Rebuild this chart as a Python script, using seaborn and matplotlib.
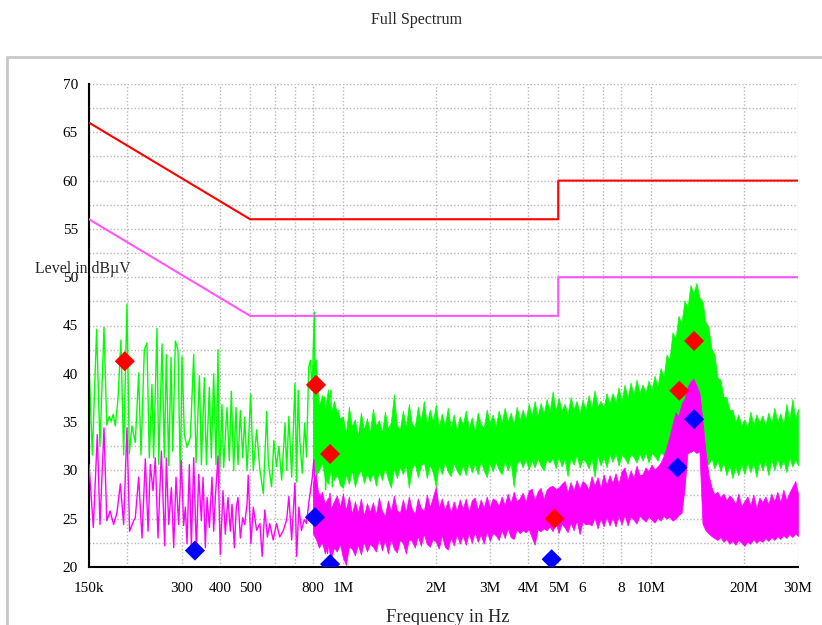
import numpy as np
import pandas as pd
import matplotlib
matplotlib.use("Agg")
import matplotlib.pyplot as plt
from matplotlib.lines import Line2D
from matplotlib.ticker import NullLocator
import seaborn as sns

# --------------------------------------------------
# Limit lines (CISPR style), MHz / dBuV
# --------------------------------------------------
limit_mhz = [0.15, 0.5, 5.0, 5.0, 30.0]
qp_limit = [66, 56, 56, 60, 60]
av_limit = [56, 46, 46, 50, 50]

# --------------------------------------------------
# Final measurement points
# --------------------------------------------------
qp_mhz = [0.196, 0.818, 0.909, 4.86, 12.36, 13.8]
qp_level = [41.3, 38.85, 31.7, 25.0, 38.25, 43.4]
av_mhz = [0.331, 0.812, 0.909, 4.76, 12.2, 13.8]
av_level = [21.7, 25.15, 20.3, 20.8, 30.3, 35.3]

# --------------------------------------------------
# Preview scan, low band (single trace points), kHz
# --------------------------------------------------
peak_khz = [150, 153.8, 158.8, 162.8, 167.8, 171.3, 174.4, 177.1, 179.8, 182.5,
            186.2, 190.4, 194.3, 199.2, 202.7, 206.8, 212.0, 217.4, 221.2, 226.8,
            231.3, 235.4, 240.1, 243.1, 249.3, 252.5, 258.9, 263.4, 267.4, 272.1,
            276.9, 280.4, 286.0, 291.8, 296.9, 300.6, 305.9, 312.0, 319.9, 328.0,
            333.8, 342.2, 347.4, 355.2, 360.6, 368.7, 374.2, 380.8, 387.5, 393.3,
            397.2, 405.2, 410.3, 420.7, 428.1, 434.5, 442.2, 450.0, 456.8, 464.8,
            473.0, 480.1, 488.6, 494.7, 502.0, 512, 525, 538, 552, 566,
            573, 587, 597, 609, 620, 633, 649, 657, 668, 682,
            699, 708, 716, 725, 738, 752, 762, 775, 785, 795,
            808, 814, 821, 832, 842, 853, 870, 879, 897, 915,
            924, 938, 954, 971, 986, 1000]
peak_level = [40.9, 31.6, 44.6, 32.5, 44.8, 34.7, 35.6, 35.1, 35.8, 34.6,
              37.3, 43.5, 31.6, 47.2, 31.7, 34.6, 32.9, 40.1, 31.6, 42.5,
              43.2, 31.3, 38.9, 31.3, 44.7, 30.6, 43.1, 31.3, 42.0, 30.5,
              41.7, 32.0, 43.4, 42.4, 28.7, 41.8, 33.7, 32.4, 33.4, 42.0,
              30.8, 39.8, 30.6, 39.6, 30.6, 38.6, 31.3, 40.0, 30.6, 42.5,
              28.7, 36.8, 30.3, 36.5, 31.0, 38.2, 30.0, 36.5, 30.6, 36.2,
              31.3, 35.5, 30.0, 33.4, 37.9, 30.0, 34.2, 30.0, 27.6, 36.1,
              30.7, 28.3, 33.1, 30.4, 32.5, 29.0, 34.9, 30.0, 35.6, 29.3,
              39.0, 28.8, 38.3, 33.1, 29.7, 34.9, 31.4, 40.7, 41.4, 38.3,
              46.4, 30.0, 39.7, 34.9, 31.4, 36.2, 37.6, 28.0, 36.9, 38.3,
              28.3, 35.6, 29.3, 36.2, 29.3, 34.2]

avg_khz = [150, 154.9, 159.6, 162.8, 167.8, 171.3, 175.6, 180.3, 184.8, 189.6,
           194.3, 199.2, 203.2, 209.4, 212.0, 217.4, 222.9, 228.5, 233.2, 237.2,
           242.0, 246.2, 251.2, 257.6, 264.1, 267.4, 272.1, 277.6, 282.5, 287.4,
           293.2, 299.0, 304.3, 308.1, 312.0, 317.5, 322.3, 328.0, 334.6, 340.5,
           347.4, 351.7, 357.9, 362.4, 368.7, 376.1, 380.8, 385.6, 393.3, 400.2,
           408.3, 415.4, 423.8, 431.3, 436.7, 444.4, 451.1, 456.8, 464.8, 473.0,
           480.1, 488.6, 493, 503, 512, 525, 538, 547, 558, 569,
           579, 594, 609, 624, 641, 657, 668, 682, 699, 708,
           720, 734, 749, 762, 775, 786, 796, 805, 815, 827,
           842, 857, 874, 892, 908, 924, 942, 961, 978, 1000]
avg_level = [30.6, 24.1, 33.7, 24.4, 34.4, 24.8, 25.8, 24.4, 25.6, 28.6,
             24.4, 34.4, 23.7, 24.8, 25.1, 29.3, 23.0, 31.2, 23.7, 30.6,
             27.9, 31.3, 23.0, 32.0, 22.2, 31.3, 24.4, 28.2, 22.0, 29.3,
             24.4, 31.0, 24.3, 26.2, 22.4, 30.6, 22.0, 31.3, 21.7, 29.6,
             24.8, 29.3, 22.0, 27.2, 24.1, 29.3, 23.7, 27.2, 31.5, 21.3,
             27.9, 23.4, 27.2, 23.7, 26.5, 22.0, 26.2, 27.2, 23.0, 25.1,
             24.4, 26.5, 29.5, 22.4, 26.2, 23.8, 24.5, 21.1, 25.9, 23.1,
             24.5, 22.8, 24.5, 23.1, 23.8, 24.9, 27.3, 22.8, 28.7, 21.1,
             26.2, 23.8, 24.9, 24.5, 26.6, 28.0, 29.3, 31.1, 27.3, 23.8,
             27.6, 22.4, 26.2, 21.4, 27.6, 23.1, 26.6, 21.8, 26.2, 23.8]

# --------------------------------------------------
# Preview scan, high band (dense: min / max per column), MHz
# --------------------------------------------------
band_mhz = [0.799, 0.817, 0.836, 0.855, 0.874, 0.894, 0.914, 0.935, 0.956, 0.978,
            1.000, 1.023, 1.046, 1.070, 1.094, 1.119, 1.144, 1.170, 1.197, 1.224,
            1.252, 1.280, 1.309, 1.339, 1.369, 1.400, 1.432, 1.464, 1.497, 1.531,
            1.566, 1.601, 1.637, 1.674, 1.712, 1.751, 1.791, 1.831, 1.873, 1.915,
            1.958, 2.003, 2.048, 2.094, 2.142, 2.190, 2.240, 2.290, 2.342, 2.395,
            2.450, 2.505, 2.562, 2.620, 2.679, 2.740, 2.802, 2.865, 2.930, 2.996,
            3.064, 3.133, 3.204, 3.277, 3.351, 3.427, 3.504, 3.584, 3.665, 3.748,
            3.833, 3.919, 4.008, 4.099, 4.191, 4.286, 4.383, 4.483, 4.584, 4.688,
            4.794, 4.903, 5.014, 5.127, 5.243, 5.362, 5.483, 5.608, 5.735, 5.865,
            5.997, 6.133, 6.272, 6.414, 6.560, 6.708, 6.860, 7.016, 7.175, 7.337,
            7.503, 7.673, 7.847, 8.025, 8.207, 8.393, 8.583, 8.777, 8.976, 9.180,
            9.388, 9.600, 9.818, 10.04, 10.27, 10.50, 10.74, 10.98, 11.23, 11.48,
            11.74, 12.01, 12.28, 12.56, 12.84, 13.13, 13.43, 13.73, 14.04, 14.36,
            14.69, 15.02, 15.36, 15.71, 16.06, 16.43, 16.80, 17.18, 17.57, 17.97,
            18.37, 18.79, 19.21, 19.65, 20.09, 20.55, 21.02, 21.49, 21.98, 22.48,
            22.99, 23.51, 24.04, 24.58, 25.14, 25.71, 26.29, 26.89, 27.50, 28.12,
            28.76, 29.41, 30.00]

peak_hi = [41.0, 41.5, 36.5, 37.8, 36.2, 38.4, 35.8, 37.2, 36.0, 35.4,
           35.6, 33.8, 36.6, 34.5, 35.3, 33.5, 36.0, 34.2, 35.4, 33.9,
           36.4, 34.6, 35.2, 33.9, 36.1, 34.3, 35.0, 37.9, 34.7, 34.2,
           36.2, 34.4, 36.9, 34.8, 34.5, 36.6, 35.0, 37.2, 34.7, 36.3,
           35.0, 36.8, 34.4, 35.9, 34.6, 36.5, 34.3, 35.8, 34.1, 35.6,
           34.7, 36.2, 34.3, 35.5, 34.0, 36.0, 34.8, 34.4, 36.3, 34.9,
           35.8, 34.5, 36.2, 34.9, 36.5, 35.0, 36.0, 34.7, 36.6, 35.2,
           36.3, 35.2, 36.9, 35.6, 37.2, 35.5, 37.0, 35.8, 37.4, 36.0,
           38.2, 36.1, 37.5, 36.2, 36.9, 35.8, 37.6, 36.3, 37.2, 35.9,
           37.3, 36.2, 37.8, 36.4, 38.3, 36.6, 37.2, 36.5, 38.0, 36.9,
           38.0, 37.0, 38.6, 37.1, 38.9, 37.4, 39.1, 37.8, 39.4, 38.0,
           38.9, 38.0, 39.3, 38.3, 39.8, 38.6, 40.6, 39.6, 42.0, 41.4,
           44.3, 43.6, 46.0, 45.2, 47.6, 46.8, 49.2, 48.3, 49.4, 47.9,
           47.5, 45.4, 44.8, 42.6, 42.0, 39.6, 39.4, 37.6, 37.6, 36.2,
           36.3, 35.0, 35.8, 34.6, 35.3, 34.4, 36.1, 34.7, 35.8, 34.9,
           35.7, 34.6, 36.0, 34.8, 36.5, 35.0, 35.9, 34.7, 36.9, 35.1,
           37.4, 35.3, 36.4]
peak_lo = [31.0, 29.5, 30.0, 30.8, 29.2, 28.6, 30.1, 29.0, 29.8, 28.5,
           28.2, 29.6, 28.6, 30.0, 28.3, 29.5, 30.1, 28.7, 29.7, 28.9,
           29.8, 28.4, 30.0, 29.0, 30.3, 29.1, 28.2, 30.2, 29.2, 30.4,
           29.6, 30.6, 28.2, 30.2, 30.7, 29.3, 30.5, 30.9, 29.2, 30.6,
           29.8, 28.3, 30.7, 29.6, 30.9, 29.9, 29.4, 30.8, 30.0, 29.5,
           30.6, 29.5, 30.9, 29.8, 30.7, 29.6, 31.0, 30.0, 29.3, 30.8,
           29.9, 30.9, 30.1, 29.6, 31.0, 30.0, 30.8, 28.3, 30.7, 31.1,
           30.3, 31.2, 30.1, 31.1, 30.3, 31.3, 30.5, 30.0, 31.2, 30.8,
           31.3, 30.2, 31.5, 30.4, 31.2, 29.4, 31.4, 30.6, 31.6, 30.3,
           31.2, 30.9, 30.2, 31.3, 29.3, 31.6, 30.5, 31.4, 30.3, 31.7,
           30.9, 31.8, 30.5, 31.6, 31.3, 30.7, 31.7, 31.4, 30.8, 31.8,
           31.0, 31.9, 30.8, 31.8, 31.5, 31.0, 31.9, 31.6, 31.2, 32.0,
           32.0, 31.7, 32.2, 33.0, 33.0, 33.0, 33.0, 33.0, 33.0, 33.0,
           31.8, 31.0, 30.6, 31.3, 30.2, 31.1, 29.9, 30.9, 29.5, 30.6,
           29.2, 30.4, 29.5, 30.7, 29.6, 30.9, 29.8, 30.8, 29.3, 31.0,
           30.0, 31.0, 29.5, 31.2, 30.0, 31.3, 30.2, 31.1, 29.8, 31.4,
           30.4, 31.2, 30.5]
avg_hi = [28.8, 29.6, 27.0, 27.8, 26.5, 27.2, 26.0, 26.8, 27.4, 26.2,
          27.6, 25.9, 27.3, 25.5, 26.8, 25.6, 27.1, 25.3, 26.6, 25.7,
          26.7, 25.4, 27.2, 25.8, 25.3, 26.9, 25.7, 27.4, 25.9, 25.6,
          27.0, 25.7, 27.3, 26.0, 25.5, 27.1, 26.1, 25.8, 27.5, 26.2,
          27.2, 28.3, 26.1, 27.1, 25.9, 26.9, 25.6, 26.8, 25.8, 27.0,
          26.0, 27.1, 25.7, 26.9, 27.2, 25.9, 27.0, 26.1, 27.3, 26.2,
          27.1, 26.9, 26.3, 27.3, 26.4, 27.6, 26.6, 27.8, 26.8, 27.1,
          27.7, 26.7, 27.9, 28.1, 26.9, 27.8, 28.2, 27.0, 28.0, 28.3,
          28.4, 28.1, 28.2, 28.6, 28.9, 27.7, 28.8, 27.9, 29.0, 28.1,
          28.9, 28.6, 28.0, 29.4, 28.4, 29.3, 28.2, 29.6, 28.5, 29.5,
          28.7, 29.7, 28.6, 29.9, 30.3, 29.0, 30.0, 29.2, 30.5, 29.5,
          29.6, 30.3, 29.9, 30.6, 30.1, 30.4, 30.8, 31.5, 32.4, 33.5,
          34.8, 36.0, 35.6, 36.9, 37.4, 38.6, 39.2, 39.5, 38.8, 38.0,
          35.2, 32.0, 29.6, 28.3, 27.5, 27.8, 27.2, 27.6, 26.9, 27.4,
          27.1, 26.5, 27.6, 26.3, 26.8, 27.3, 26.4, 27.5, 26.1, 27.2,
          26.7, 27.3, 26.5, 27.6, 26.8, 27.8, 26.7, 28.0, 26.9, 27.7,
          28.3, 28.9, 27.6]
avg_lo = [23.5, 22.9, 22.0, 22.6, 21.4, 22.3, 20.8, 22.0, 21.6, 22.4,
          21.0, 20.2, 22.1, 21.9, 21.2, 22.3, 21.3, 22.6, 21.6, 22.4,
          22.1, 21.6, 23.0, 21.7, 22.8, 21.4, 22.9, 21.9, 21.5, 22.8,
          22.5, 21.4, 22.9, 22.7, 22.0, 23.2, 22.2, 23.4, 22.4, 22.1,
          22.9, 22.6, 21.9, 23.3, 22.1, 21.8, 23.1, 22.2, 23.4, 22.4,
          23.3, 22.3, 23.5, 22.5, 23.6, 22.6, 23.4, 22.4, 23.7, 22.7,
          23.5, 23.3, 22.8, 23.8, 23.0, 24.0, 23.1, 22.9, 23.9, 23.5,
          23.8, 23.6, 23.9, 23.1, 22.3, 23.9, 23.7, 24.0, 23.8, 24.2,
          23.7, 24.6, 23.5, 24.5, 24.1, 23.6, 24.6, 23.8, 24.8, 23.4,
          24.7, 24.4, 24.5, 24.3, 25.1, 24.0, 25.0, 24.2, 25.2, 24.3,
          25.1, 24.2, 25.3, 24.4, 25.4, 24.3, 25.2, 24.9, 24.5, 25.3,
          25.0, 24.7, 25.2, 24.9, 24.6, 25.1, 24.8, 25.3, 25.0, 25.2,
          24.8, 25.0, 25.4, 25.6, 28.0, 31.8, 31.9, 32.1, 31.8, 32.0,
          24.5, 23.8, 23.5, 23.2, 23.0, 22.8, 23.1, 22.6, 22.9, 22.4,
          22.7, 22.3, 22.8, 22.5, 22.2, 22.6, 22.4, 22.9, 22.5, 22.8,
          22.6, 23.0, 22.7, 23.1, 22.8, 23.2, 22.9, 23.3, 23.0, 23.4,
          23.1, 23.5, 23.2]

# --------------------------------------------------
# Axis ticks
# --------------------------------------------------
xtick_mhz = [0.15, 0.2, 0.3, 0.4, 0.5, 0.6, 0.7, 0.8, 1, 2, 3, 4, 5, 6, 7, 8, 10, 20, 30]
xtick_labels = ["150k", "", "300", "400", "500", "", "", "800", "1M", "2M", "3M",
                "4M", "5M", "6", "", "8", "10M", "20M", "30M"]
ytick_vals = [20, 22.5, 25, 27.5, 30, 32.5, 35, 37.5, 40, 42.5, 45, 47.5,
              50, 52.5, 55, 57.5, 60, 62.5, 65, 67.5, 70]

GREEN = "#00ff00"
MAGENTA = "#ff00ff"
AV_LIMIT = "#ff55ff"
RED = "#ff0000"
BLUE = "#0000ff"

sns.set_style("white")
plt.rcParams["font.family"] = ["Liberation Serif", "DejaVu Serif"]

fig = plt.figure(figsize=(8.22, 6.25), dpi=100)
ax = fig.add_axes([89 / 822, 1 - 567 / 625, (798 - 89) / 822, (567 - 84) / 625])

# gray frame around the plot area
frame_y = 1 - 57 / 625
fig.add_artist(Line2D([7 / 822, 1.0], [frame_y, frame_y], transform=fig.transFigure,
                      color="#c8c8c8", lw=2))
fig.add_artist(Line2D([7 / 822, 7 / 822], [0, frame_y], transform=fig.transFigure,
                      color="#c8c8c8", lw=2))

# ----------------------------
# Peak trace (green)
# ----------------------------
sns.lineplot(x=np.array(peak_khz) / 1000, y=peak_level, sort=False, estimator=None,
             color=GREEN, lw=1.0, ax=ax, zorder=2)
ax.fill_between(band_mhz, peak_lo, peak_hi, color=GREEN, lw=0.5, zorder=2)

# ----------------------------
# Average trace (magenta)
# ----------------------------
sns.lineplot(x=np.array(avg_khz) / 1000, y=avg_level, sort=False, estimator=None,
             color=MAGENTA, lw=1.0, ax=ax, zorder=3)
ax.fill_between(band_mhz, avg_lo, avg_hi, color=MAGENTA, lw=0.5, zorder=3)

# ----------------------------
# Limit lines
# ----------------------------
sns.lineplot(x=limit_mhz, y=qp_limit, sort=False, estimator=None, color=RED,
             lw=1.5, ax=ax, zorder=4)
sns.lineplot(x=limit_mhz, y=av_limit, sort=False, estimator=None, color=AV_LIMIT,
             lw=1.5, ax=ax, zorder=4)

# ----------------------------
# Final measurement markers
# ----------------------------
sns.scatterplot(x=qp_mhz, y=qp_level, marker="D", s=105, color=RED, edgecolor="none",
                ax=ax, zorder=6)
sns.scatterplot(x=av_mhz, y=av_level, marker="D", s=105, color=BLUE, edgecolor="none",
                ax=ax, zorder=6)

# ----------------------------
# Axes styling
# ----------------------------
ax.set_xscale("log")
ax.set_xlim(0.15, 30)
ax.set_ylim(20, 70)
ax.set_xticks(xtick_mhz)
ax.set_xticklabels(xtick_labels)
ax.xaxis.set_minor_locator(NullLocator())
ax.set_yticks(ytick_vals)
ax.set_yticklabels([f"{v:g}" if v % 5 == 0 else "" for v in ytick_vals])
ax.tick_params(axis="both", direction="inout", length=10, width=1.2, color="black",
               labelsize=11, labelcolor="black")
ax.tick_params(axis="x", pad=6)
ax.tick_params(axis="y", pad=3)
ax.grid(True, ls=(0, (1, 1.5)), color="#b8b8b8", lw=1)
ax.set_axisbelow(True)
for side in ["top", "right"]:
    ax.spines[side].set_visible(False)
for side in ["left", "bottom"]:
    ax.spines[side].set_color("black")
    ax.spines[side].set_linewidth(1.5)
ax.set_xlabel("")
ax.set_ylabel("")

fig.text(417 / 822, 1 - 20 / 625, "Full Spectrum", fontsize=11.5, ha="center", va="center")
fig.text(35 / 822, 1 - 269 / 625, "Level in dBµV", fontsize=11.4, ha="left", va="center",
         zorder=10)
fig.text(448 / 822, 1 - 617 / 625, "Frequency in Hz", fontsize=13.3, ha="center",
         va="center")

fig.savefig("out.png", dpi=100)
